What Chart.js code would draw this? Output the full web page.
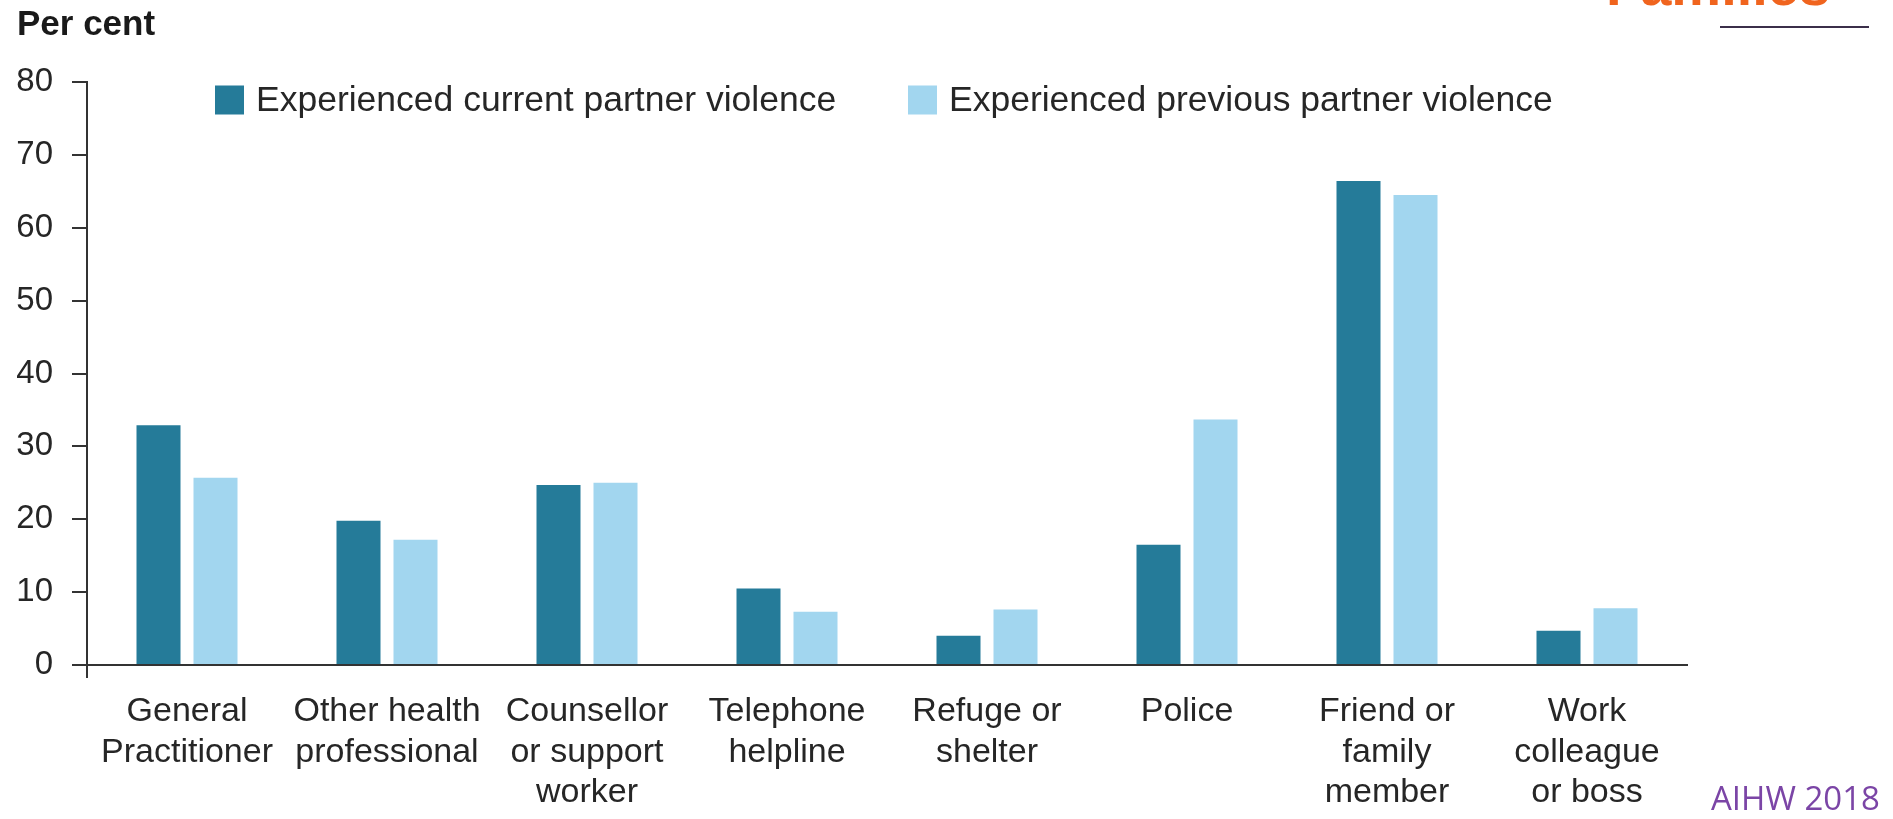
<!DOCTYPE html>
<html>
<head>
<meta charset="utf-8">
<script src="https://cdn.jsdelivr.net/npm/chart.js@4.4.1/dist/chart.umd.min.js"></script>
<style>
  html, body { margin: 0; padding: 0; background: #ffffff; }
  #wrap { width: 1893px; height: 819px; position: relative; }
</style>
</head>
<body>
<div id="wrap"><canvas id="c" width="1893" height="819"></canvas></div>
<script>
// ---- data ----
const categories = [
  ["General", "Practitioner"],
  ["Other health", "professional"],
  ["Counsellor", "or support", "worker"],
  ["Telephone", "helpline"],
  ["Refuge or", "shelter"],
  ["Police"],
  ["Friend or", "family", "member"],
  ["Work", "colleague", "or boss"]
];
const seriesNames = ["Experienced current partner violence", "Experienced previous partner violence"];
const currentValues  = [32.9, 19.8, 24.7, 10.5, 4.0, 16.5, 66.4, 4.7];
const previousValues = [25.7, 17.2, 25.0, 7.3, 7.6, 33.7, 64.5, 7.8];
const yAxisTitle = "Per cent";
const sourceNote = "AIHW 2018";
const headerText = "Families";

// ---- styles ----
const FONT = '"Liberation Sans", Arial, Helvetica, sans-serif';
const TEXT = '#262626';
const AXIS = '#333333';
const DARK = '#257b99';
const LIGHT = '#a2d6ef';

const overlayPlugin = {
  id: 'overlay',
  afterDraw(chart) {
    const ctx = chart.ctx;
    ctx.save();
    // y-axis title
    ctx.fillStyle = '#1a1a1a';
    ctx.font = 'bold 35px ' + FONT;
    ctx.textAlign = 'left';
    ctx.textBaseline = 'alphabetic';
    ctx.fillText(yAxisTitle, 17, 35);

    // legend drawn from datasets
    const legendX = [215, 908];
    const legendY = 100;
    const box = 29;
    ctx.font = '35.5px ' + FONT;
    ctx.textBaseline = 'middle';
    chart.data.datasets.forEach((ds, i) => {
      ctx.fillStyle = ds.backgroundColor;
      ctx.fillRect(legendX[i], legendY - box / 2, box, box);
      ctx.fillStyle = TEXT;
      ctx.fillText(ds.label, legendX[i] + box + 12, legendY + 1);
    });

    // source note
    ctx.fillStyle = '#7b45a6';
    ctx.font = '33px "Open Sans", ' + FONT;
    ctx.textBaseline = 'alphabetic';
    ctx.textAlign = 'left';
    ctx.fillText(sourceNote, 1711, 810);

    // cut-off header text and rule
    ctx.fillStyle = '#f0641e';
    ctx.font = 'bold 56px ' + FONT;
    ctx.fillText(headerText, 1606, 5);
    ctx.strokeStyle = '#3b2f4a';
    ctx.lineWidth = 2;
    ctx.beginPath();
    ctx.moveTo(1720, 27);
    ctx.lineTo(1869, 27);
    ctx.stroke();
    ctx.restore();
  }
};

new Chart(document.getElementById('c'), {
  type: 'bar',
  data: {
    labels: categories,
    datasets: [
      { label: seriesNames[0], data: currentValues, backgroundColor: DARK, borderWidth: 0 },
      { label: seriesNames[1], data: previousValues, backgroundColor: LIGHT, borderWidth: 0 }
    ]
  },
  options: {
    responsive: false,
    animation: false,
    devicePixelRatio: 1,
    categoryPercentage: 0.57,
    barPercentage: 0.772,
    layout: { padding: { left: 0, top: 82, right: 206, bottom: 0 } },
    plugins: {
      legend: { display: false },
      title: { display: false },
      tooltip: { enabled: false }
    },
    scales: {
      x: {
        offset: true,
        grid: {
          offset: true,
          drawOnChartArea: false,
          drawTicks: true,
          tickLength: 13,
          lineWidth: 2,
          color: (c) => (c.index === 0 ? AXIS : 'rgba(0,0,0,0)')
        },
        border: { display: true, color: AXIS, width: 2 },
        ticks: {
          color: TEXT,
          font: { family: FONT, size: 34, lineHeight: 1.18 },
          padding: 14,
          autoSkip: false,
          maxRotation: 0,
          minRotation: 0
        },
        afterFit: (s) => { s.height = 154; }
      },
      y: {
        min: 0,
        max: 80,
        grid: {
          drawOnChartArea: false,
          drawTicks: true,
          tickLength: 15,
          lineWidth: 2,
          color: AXIS
        },
        border: { display: true, color: AXIS, width: 2 },
        ticks: {
          stepSize: 10,
          color: TEXT,
          font: { family: FONT, size: 33 },
          padding: 19
        },
        afterFit: (s) => { s.width = 87; }
      }
    }
  },
  plugins: [overlayPlugin]
});
</script>
</body>
</html>
